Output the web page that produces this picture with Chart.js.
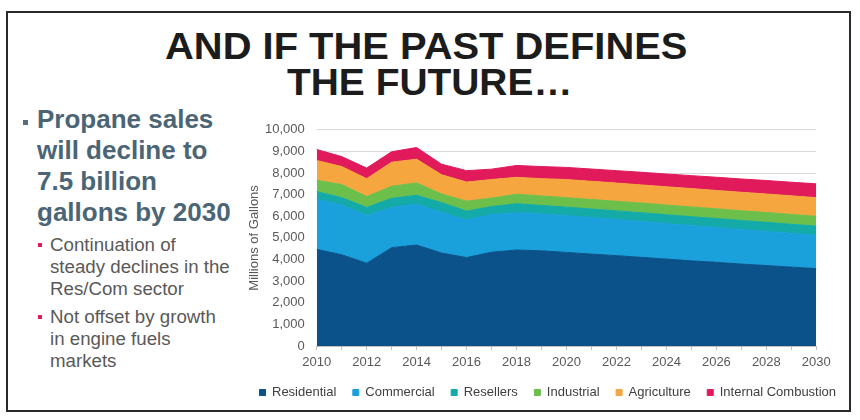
<!DOCTYPE html>
<html>
<head>
<meta charset="utf-8">
<title>Propane sales</title>
<script src="https://cdn.jsdelivr.net/npm/chart.js@4.4.1/dist/chart.umd.min.js"></script>
<style>
  html, body { margin: 0; padding: 0; background: #fff; overflow: hidden; }
  body { width: 860px; height: 420px; position: relative; font-family: "Liberation Sans", Arial, sans-serif; }
  .frame { position: absolute; left: 6px; top: 11px; width: 845px; height: 401px; border: 2px solid #2a2a2a; box-sizing: border-box; }
  .title { position: absolute; font-size: 37px; line-height: 37px; font-weight: bold; color: #1c1c1c; white-space: nowrap; transform-origin: 0 0; }
  .head { position: absolute; left: 37px; top: 104px; font-size: 26px; line-height: 31px; font-weight: bold; color: #4b6576; white-space: nowrap; }
  .sub { position: absolute; left: 50px; font-size: 18.7px; line-height: 22.2px; color: #595959; white-space: nowrap; }
  .sq { position: absolute; }
  #chart { position: absolute; left: 243px; top: 110px; }
</style>
</head>
<body>
<div class="frame"></div>
<div class="title" id="t1" style="top:28px">AND IF THE PAST DEFINES</div>
<div class="title" id="t2" style="top:64px">THE FUTURE…</div>

<div class="sq" style="left:23px;top:120px;width:5px;height:5px;background:#557082"></div>
<div class="head">Propane sales<br>will decline to<br>7.5 billion<br>gallons by 2030</div>

<div class="sq" style="left:38px;top:243px;width:4px;height:4px;background:#e0195c"></div>
<div class="sub" style="top:234px">Continuation of<br>steady declines in the<br>Res/Com sector</div>
<div class="sq" style="left:38px;top:315px;width:4px;height:4px;background:#e0195c"></div>
<div class="sub" style="top:306px">Not offset by growth<br>in engine fuels<br>markets</div>

<canvas id="chart" width="617" height="305"></canvas>

<script>
/* global Chart */

// Millions of gallons per year
const years = ['2010', '2011', '2012', '2013', '2014', '2015', '2016', '2017', '2018', '2019', '2020',
  '2021', '2022', '2023', '2024', '2025', '2026', '2027', '2028', '2029', '2030'];

const residential = [4470, 4220, 3830, 4550, 4670, 4300, 4090, 4340, 4440, 4400, 4330,
  4250, 4180, 4100, 4020, 3940, 3870, 3790, 3720, 3650, 3580];
const commercial = [2320, 2300, 2200, 1860, 1890, 1880, 1740, 1740, 1740, 1700, 1700,
  1690, 1670, 1660, 1640, 1630, 1610, 1600, 1580, 1560, 1540];
const resellers = [350, 345, 380, 420, 410, 450, 410, 370, 400, 400, 390,
  395, 400, 405, 410, 410, 415, 415, 420, 420, 425];
const industrial = [530, 600, 500, 560, 575, 400, 460, 390, 440, 440, 440,
  440, 445, 445, 450, 450, 450, 450, 455, 455, 455];
const agriculture = [910, 835, 830, 1110, 1095, 890, 880, 860, 780, 800, 840,
  840, 840, 840, 845, 850, 850, 855, 855, 860, 860];
const internalCombustion = [510, 460, 490, 485, 540, 490, 530, 480, 550, 560, 560,
  570, 575, 585, 590, 600, 610, 615, 625, 630, 640];

{
  'use strict';

  /* Title: stretch each line to the width it has in the slide */

  function fitLine(id, left, width) {
    const el = document.getElementById(id);
    el.style.left = left + 'px';
    el.style.transform = 'scaleX(' + (width / el.offsetWidth) + ')';
  }
  fitLine('t1', 165, 522);
  fitLine('t2', 287, 285);

  /* Chart */

  Chart.defaults.font.family = '"Liberation Sans", Arial, sans-serif';
  Chart.defaults.font.size = 13;

  function area(label, data, color, fill) {
    return {
      label: label,
      data: data,
      backgroundColor: color,
      borderColor: color,
      borderWidth: 1,
      fill: fill,
      tension: 0,
      pointRadius: 0,
    };
  }

  const ctx = document.getElementById('chart').getContext('2d');

  new Chart(ctx, {
    type: 'line',
    data: {
      labels: years,
      datasets: [
        area('Residential', residential, '#0a5289', 'origin'),
        area('Commercial', commercial, '#1aa0db', '-1'),
        area('Resellers', resellers, '#13aaa8', '-1'),
        area('Industrial', industrial, '#6cbf4b', '-1'),
        area('Agriculture', agriculture, '#f5a63f', '-1'),
        area('Internal Combustion', internalCombustion, '#e01a5b', '-1'),
      ]
    },
    options: {
      responsive: false,
      animation: false,
      devicePixelRatio: 1,
      layout: { padding: { top: 16, right: 0, bottom: 6, left: 0 } },
      plugins: {
        legend: {
          position: 'bottom',
          align: 'start',
          labels: { boxWidth: 6, boxHeight: 6, padding: 16.5, color: '#404040', font: { size: 13 } }
        },
        tooltip: { enabled: false },
      },
      scales: {
        x: {
          grid: { drawOnChartArea: false, drawTicks: true, tickLength: 4, color: '#bfbfbf' },
          border: { color: '#bfbfbf' },
          ticks: {
            autoSkip: false,
            maxRotation: 0,
            padding: 5,
            color: '#595959',
            callback: function(value, index) {
              return index % 2 === 0 ? this.getLabelForValue(value) : '';
            }
          },
          afterFit: function(scale) { scale.height = 23.5; }
        },
        y: {
          stacked: true,
          min: 0,
          max: 10000,
          grid: { color: '#d9d9d9', drawTicks: false },
          border: { display: false },
          ticks: { stepSize: 1000, padding: 12, color: '#595959' },
          title: {
            display: true,
            text: 'Millions of Gallons',
            color: '#595959',
            font: { size: 13 },
            padding: { top: 3.7, bottom: 0 }
          },
          afterFit: function(scale) { scale.width = 73.7; }
        },
        // empty axis on the right, keeps the plot clear of the frame
        pad: {
          position: 'right',
          grid: { display: false },
          border: { display: false },
          ticks: { display: false },
          afterFit: function(scale) { scale.width = 43.7; }
        }
      }
    }
  });
}
</script>
</body>
</html>
